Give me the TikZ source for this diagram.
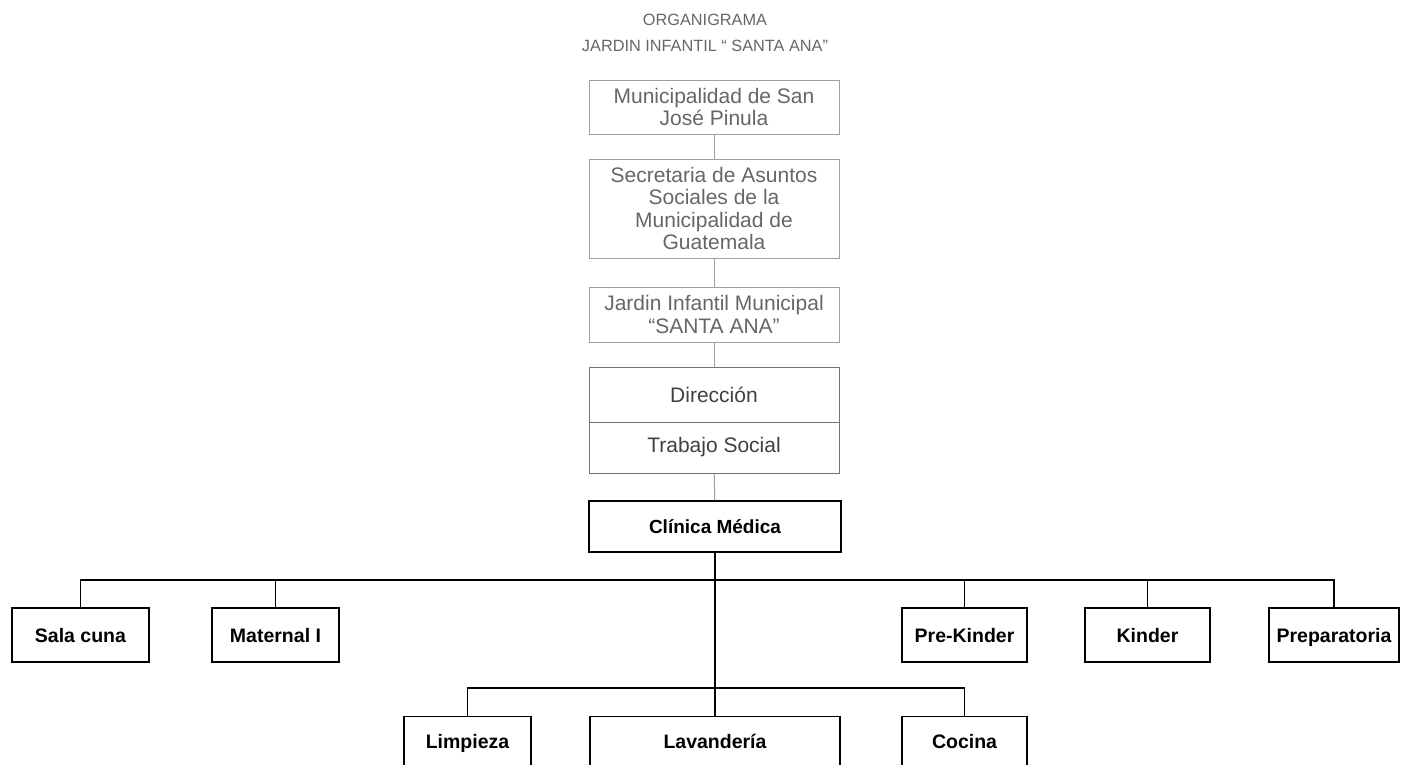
\documentclass[tikz,border=0pt]{standalone}
\usepackage{fontspec}
\setmainfont{Liberation Sans}
\usepackage{tikz}
\begin{document}
\begin{tikzpicture}[x=1pt, y=-1pt,
  base/.style = {shape=rectangle, draw, align=center, inner sep=0pt},
  caja/.style = {base, line width=1.2pt, text height=18pt, text depth=4pt,
    font=\fontsize{19.5}{22}\selectfont\bfseries},
  cajagris/.style = {base, draw=gray!75, line width=1pt, text=gray!80!black,
    font=\fontsize{21}{22.5}\selectfont},
  linea/.style = {draw, line width=1.3pt},
  lineagris/.style = {draw=gray!75, line width=1pt}
  ]
  \useasboundingbox (0,0) rectangle (1404,764);
  \clip (0,0) rectangle (1404,764);
  \node[font=\fontsize{16.3}{18}\selectfont, text=gray!80!black] (titulo) at (705,20) {ORGANIGRAMA};
  \node[font=\fontsize{16.3}{18}\selectfont, text=gray!80!black] (subtitulo) at (705,46) {JARDIN INFANTIL “ SANTA ANA”};
  % cadena superior
  \node[cajagris, minimum width=250pt, minimum height=54pt] (muni) at (714,107)
    {Municipalidad de San\\José Pinula};
  \node[cajagris, minimum width=250pt, minimum height=99pt] (secre) at (714,208.5)
    {Secretaria de Asuntos\\Sociales de la\\Municipalidad de\\Guatemala};
  \node[cajagris, minimum width=250pt, minimum height=55pt] (jardin) at (714,314.5)
    {Jardin Infantil Municipal\\“SANTA ANA”};
  \node[cajagris, draw=gray!90!black, text=black!75, minimum width=250pt, minimum height=55pt] (direc) at (714,394.5) {Dirección};
  \node[cajagris, draw=gray!90!black, text=black!75, minimum width=250pt, minimum height=51pt] (trabajo) at (714,447.5) {Trabajo Social};
  \node[caja, font=\fontsize{19}{22}\selectfont\bfseries, minimum width=252pt, minimum height=51pt] (clinica) at (715,526.5) {Clínica Médica};
  % salas
  \node[caja, minimum width=137pt, minimum height=54pt] (sala) at (80.5,635) {Sala cuna};
  \node[caja, minimum width=127pt, minimum height=54pt] (maternal) at (275.5,635) {Maternal I};
  \node[caja, minimum width=125pt, minimum height=54pt] (prekinder) at (964.5,635) {Pre-Kinder};
  \node[caja, minimum width=125pt, minimum height=54pt] (kinder) at (1147.5,635) {Kinder};
  \node[caja, minimum width=130pt, minimum height=54pt] (prepa) at (1334,635) {Preparatoria};
  % servicios
  \node[caja, minimum width=127pt, minimum height=50pt, anchor=north] (limpieza) at (467.5,716) {Limpieza};
  \node[caja, minimum width=250pt, minimum height=50pt, anchor=north] (lavanderia) at (715,716) {Lavandería};
  \node[caja, minimum width=125pt, minimum height=50pt, anchor=north] (cocina) at (964.5,716) {Cocina};
  \coordinate (barra) at (715,580);
  \coordinate (barra2) at (715,688);
  % conectores
  \draw[lineagris] (muni) -- (secre);
  \draw[lineagris] (secre) -- (jardin);
  \draw[lineagris] (jardin) -- (direc);
  \draw[lineagris] (trabajo) -- (clinica);
  \draw[linea] (clinica) -- (lavanderia);
  \foreach \n in {sala, maternal, prekinder, kinder, prepa}
    \draw[linea] (\n.north) |- (barra);
  \foreach \n in {limpieza, cocina}
    \draw[linea] (\n.north) |- (barra2);
\end{tikzpicture}
\end{document}
